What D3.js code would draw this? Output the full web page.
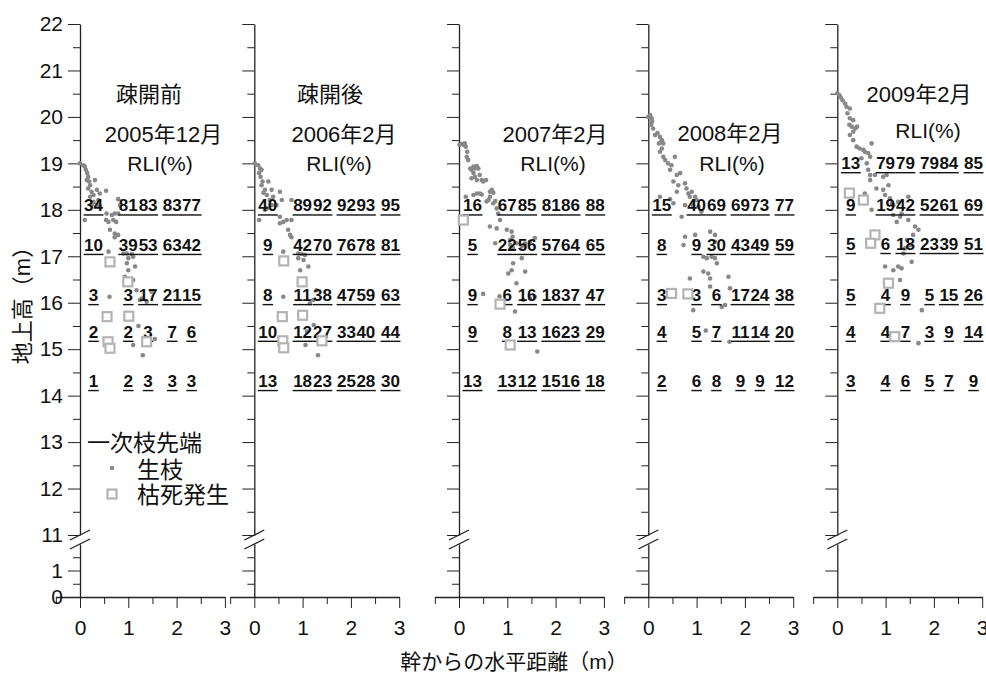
<!DOCTYPE html>
<html>
<head>
<meta charset="utf-8">
<script src="https://cdn.jsdelivr.net/npm/d3@7"></script>
<style>
body { margin: 0; background: #fff; }
svg { display: block; }
text { font-family: "Liberation Sans", "Noto Sans CJK JP", sans-serif; }
</style>
</head>
<body>
<svg width="986" height="673"></svg>
<script>
// ---- data ----------------------------------------------------------
var titleTop = ["疎開前", "疎開後", "", "", ""];
var titleDate = ["2005年12月", "2006年2月", "2007年2月", "2008年2月", "2009年2月"];

// RLI column positions (m from trunk) and row heights (m)
var rliCols = [0.28, 1.0, 1.41, 1.91, 2.31, 2.82];
var rliRows = [17.9, 17.05, 15.97, 15.18, 14.12];
var rliRows2009 = [18.81, 17.9, 17.07, 15.97, 15.18, 14.12];

var rli2005 = [[34, 81, 83, 83, 77], [10, 39, 53, 63, 42], [3, 3, 17, 21, 15], [2, 2, 3, 7, 6], [1, 2, 3, 3, 3]];
var rli2006 = [[40, 89, 92, 92, 93, 95], [9, 42, 70, 76, 78, 81], [8, 11, 38, 47, 59, 63], [10, 12, 27, 33, 40, 44], [13, 18, 23, 25, 28, 30]];
var rli2007 = [[16, 67, 85, 81, 86, 88], [5, 22, 56, 57, 64, 65], [9, 6, 16, 18, 37, 47], [9, 8, 13, 16, 23, 29], [13, 13, 12, 15, 16, 18]];
var rli2008 = [[15, 40, 69, 69, 73, 77], [8, 9, 30, 43, 49, 59], [3, 3, 6, 17, 24, 38], [4, 5, 7, 11, 14, 20], [2, 6, 8, 9, 9, 12]];
var rli2009 = [[13, 79, 79, 79, 84, 85], [9, 19, 42, 52, 61, 69], [5, 6, 18, 23, 39, 51], [5, 4, 9, 5, 15, 26], [4, 4, 7, 3, 9, 14], [3, 4, 6, 5, 7, 9]];

// primary branch tips: [horizontal distance (m), height (m)]
var live2005 = [[0, 19.0], [0.07, 18.96], [0.10, 18.93], [0.12, 18.86], [0.15, 18.79], [0.17, 18.71], [0.14, 18.64], [0.19, 18.61],
  [0.31, 18.64], [0.21, 18.53], [0.17, 18.46], [0.24, 18.39], [0.28, 18.32], [0.21, 18.28], [0.35, 18.43], [0.41, 18.35],
  [0.54, 18.41], [0.38, 18.21], [0.28, 18.17], [0.24, 18.10], [0.35, 18.10], [0.41, 18.07], [0.10, 17.78], [0.55, 17.92],
  [0.66, 17.89], [0.72, 17.92], [0.79, 17.92], [0.54, 17.78], [0.59, 17.74], [0.69, 17.78], [0.79, 18.23], [0.83, 18.10],
  [0.75, 17.74], [0.62, 17.57], [0.72, 17.49], [0.79, 17.46], [0.72, 17.41], [0.59, 17.10], [0.90, 17.06], [0.97, 17.06],
  [1.07, 17.05], [1.00, 16.96], [1.10, 16.99], [0.97, 16.85], [1.14, 16.78], [1.00, 16.70], [0.93, 16.56], [1.10, 16.49],
  [0.61, 16.13], [1.17, 16.27], [1.28, 16.09], [1.38, 16.02], [1.24, 16.06], [1.48, 16.24], [1.21, 15.50], [1.10, 15.09],
  [1.30, 14.87], [1.55, 15.22], [1.33, 15.22]];
var dead2005 = [[0.62, 16.88], [0.99, 16.45], [0.56, 15.70], [1.01, 15.71], [0.58, 15.16], [0.62, 15.02], [1.38, 15.16]];

var live2006 = [[0.01, 19.0], [0.08, 18.96], [0.12, 18.89], [0.15, 18.86], [0.10, 18.79], [0.13, 18.71], [0.17, 18.61], [0.15, 18.53],
  [0.29, 18.61], [0.22, 18.43], [0.19, 18.37], [0.26, 18.32], [0.36, 18.43], [0.53, 18.39], [0.39, 18.28], [0.32, 18.21],
  [0.36, 18.10], [0.26, 18.03], [0.46, 18.10], [0.22, 18.0], [0.10, 17.78], [0.53, 17.85], [0.60, 17.74], [0.67, 17.78],
  [0.77, 17.78], [0.53, 17.71], [0.57, 18.21], [0.77, 18.21], [0.70, 17.57], [0.74, 17.46], [0.77, 17.41], [0.60, 17.10],
  [0.91, 17.06], [0.98, 17.05], [1.05, 17.03], [0.91, 16.96], [1.02, 16.92], [0.95, 16.70], [1.12, 16.78], [0.98, 16.49],
  [1.02, 16.38], [0.60, 16.13], [1.15, 15.99], [1.29, 16.27], [1.22, 16.06], [1.23, 15.52], [1.09, 15.38], [1.44, 15.16],
  [1.06, 15.09], [1.32, 14.87]];
var dead2006 = [[0.61, 16.90], [0.99, 16.45], [0.58, 15.70], [1.0, 15.73], [0.59, 15.18], [0.61, 15.03], [1.40, 15.18]];

var live2007 = [[0.01, 19.40], [0.06, 19.42], [0.09, 19.40], [0.12, 19.43], [0.14, 19.36], [0.17, 19.25], [0.16, 19.14], [0.19, 19.07],
  [0.23, 18.89], [0.26, 18.86], [0.30, 18.93], [0.33, 18.89], [0.37, 18.94], [0.40, 18.89], [0.30, 18.79], [0.33, 18.71],
  [0.26, 18.68], [0.43, 18.75], [0.37, 18.64], [0.47, 18.64], [0.50, 18.61], [0.56, 18.64], [0.14, 18.28], [0.30, 18.32],
  [0.37, 18.35], [0.43, 18.35], [0.47, 18.33], [0.64, 18.39], [0.68, 18.43], [0.71, 18.37], [0.64, 18.28], [0.61, 18.21],
  [0.57, 18.18], [0.71, 18.14], [0.75, 18.19], [0.78, 18.03], [0.81, 17.92], [0.85, 17.78], [0.64, 17.64], [0.78, 17.60],
  [0.99, 17.57], [1.09, 17.53], [1.11, 17.42], [1.06, 17.35], [1.06, 17.24], [1.12, 17.17], [1.19, 17.28], [1.30, 17.21],
  [1.37, 17.28], [1.57, 17.39], [1.47, 17.31], [0.75, 17.28], [1.30, 16.96], [1.12, 16.85], [1.09, 16.70], [1.02, 16.63],
  [1.37, 16.67], [1.19, 16.42], [1.47, 16.09], [1.33, 16.06], [0.50, 16.19], [0.84, 16.14], [1.16, 15.81], [1.57, 16.13],
  [1.62, 14.95]];
var dead2007 = [[0.09, 17.78], [0.85, 15.97], [1.06, 15.09]];

var live2008 = [[0.0, 20.0], [0.04, 20.04], [0.07, 19.97], [0.08, 19.90], [0.06, 19.83], [0.10, 19.75], [0.14, 19.61], [0.19, 19.65],
  [0.24, 19.57], [0.28, 19.50], [0.22, 19.43], [0.31, 19.43], [0.28, 19.32], [0.24, 19.25], [0.31, 19.14], [0.35, 19.07],
  [0.41, 19.0], [0.48, 18.96], [0.55, 19.14], [0.45, 18.86], [0.59, 18.75], [0.66, 18.79], [0.52, 18.61], [0.62, 18.53],
  [0.59, 18.39], [0.76, 18.57], [0.79, 18.46], [0.83, 18.35], [0.90, 18.39], [0.86, 18.28], [0.97, 18.28], [1.00, 18.21],
  [0.93, 18.10], [1.04, 18.07], [1.10, 17.96], [0.69, 17.85], [0.45, 18.23], [0.24, 18.28], [0.52, 18.14], [0.76, 18.10],
  [0.76, 17.42], [0.73, 17.24], [0.97, 17.46], [1.28, 17.53], [1.38, 17.46], [1.38, 17.31], [1.14, 16.99], [1.21, 16.96],
  [1.31, 16.99], [1.38, 16.96], [1.42, 16.85], [1.14, 16.67], [1.24, 16.63], [1.28, 16.52], [0.86, 16.52], [1.28, 16.35],
  [1.66, 16.56], [1.69, 16.31], [1.52, 15.91], [1.59, 15.95], [0.93, 15.84], [1.19, 15.40], [1.68, 15.16]];
var dead2008 = [[0.48, 16.20], [0.82, 16.19]];

var live2009 = [[0.0, 20.51], [0.04, 20.47], [0.07, 20.42], [0.11, 20.36], [0.16, 20.29], [0.19, 20.22], [0.26, 20.18], [0.21, 20.08],
  [0.26, 19.97], [0.33, 19.93], [0.25, 19.83], [0.30, 19.79], [0.37, 19.75], [0.41, 19.79], [0.33, 19.68], [0.26, 19.61],
  [0.33, 19.50], [0.40, 19.36], [0.46, 19.32], [0.54, 19.29], [0.57, 19.25], [0.64, 19.22], [0.71, 19.43], [0.68, 19.14],
  [0.50, 19.11], [0.61, 19.0], [0.64, 18.86], [0.68, 18.75], [0.68, 18.64], [0.78, 18.75], [0.95, 18.71], [1.02, 18.75],
  [1.06, 18.53], [0.81, 18.46], [0.95, 18.43], [0.99, 18.32], [1.09, 18.25], [1.13, 18.14], [1.16, 18.10], [1.26, 18.17],
  [1.47, 18.28], [1.16, 17.89], [1.30, 17.85], [1.33, 17.92], [1.23, 17.74], [1.47, 17.78], [1.61, 17.64], [1.68, 17.57],
  [1.57, 17.46], [1.44, 17.35], [1.51, 17.24], [1.40, 17.17], [1.37, 17.06], [1.54, 16.88], [1.16, 16.70], [1.26, 16.78],
  [1.33, 16.74], [1.30, 16.49], [0.99, 16.78], [1.75, 15.84], [0.71, 18.0], [0.57, 18.35], [1.68, 15.13]];
var dead2009 = [[0.25, 18.36], [0.54, 18.21], [0.78, 17.46], [0.69, 17.28], [1.06, 16.42], [0.88, 15.88], [1.19, 15.27]];

var allRli = [rli2005, rli2006, rli2007, rli2008, rli2009];
var allLive = [live2005, live2006, live2007, live2008, live2009];
var allDead = [dead2005, dead2006, dead2007, dead2008, dead2009];

// ---- layout --------------------------------------------------------
var svg = d3.select("svg");
var panelX = [80, 254.3, 459, 648.3, 837.3];   // trunk axis of each panel
var kx = 48.3;                                 // px per metre (horizontal)

var yHi = d3.scaleLinear().domain([11, 22]).range([535, 24]);
var yLo = d3.scaleLinear().domain([0, 2]).range([597, 544]);

// title centres relative to trunk axis: [top line, date, RLI]
var titleDx = [[69, 83.5, 80], [75.7, 89.7, 84.7], [0, 96, 94], [0, 81.7, 83.7], [0, 81.7, 90.7]];
var titleY = [[94, 134, 163], [94, 134, 163], [0, 134, 163], [0, 133, 163], [0, 94, 130]];

var xTicks = d3.range(-0.5, 3.01, 0.5);

panelX.forEach(function (px, i) {
    var x = d3.scaleLinear().domain([-0.5, 3]).range([px - 0.5 * kx, px + 3 * kx]);
    var g = svg.append("g").attr("color", "#222");

    // x axis
    var xa = g.append("g")
        .attr("transform", "translate(0," + yLo(0) + ")")
        .call(d3.axisBottom(x).tickValues(xTicks).tickSizeOuter(0)
            .tickFormat(function (d) { return d % 1 === 0 ? d : ""; }));
    xa.selectAll(".tick line").attr("y2", function (d) { return d % 1 === 0 ? 11 : 7; });
    xa.selectAll(".tick text").attr("y", 23).attr("font-size", 21).attr("font-family", null).attr("fill", "#111");
    xa.select(".domain").attr("stroke-width", 1.3);

    // upper y axis (11 - 22 m)
    var ya = g.append("g")
        .attr("transform", "translate(" + x(0) + ",0)")
        .call(d3.axisLeft(yHi).tickValues(d3.range(11, 22.01, 0.5)).tickSizeOuter(0)
            .tickFormat(function (d) { return (i === 0 && d % 1 === 0) ? d : ""; }));
    ya.selectAll(".tick line").attr("x2", function (d) { return d % 1 === 0 ? -12 : -7; });
    ya.selectAll(".tick text").attr("x", -17).attr("font-size", 21).attr("font-family", null).attr("fill", "#111");
    ya.select(".domain").attr("stroke-width", 1.3);

    // lower y axis (0 - 2 m)
    var lowTicks = i < 4 ? [0, 0.5, 1, 1.5] : [0, 1];
    var yl = g.append("g")
        .attr("transform", "translate(" + x(0) + ",0)")
        .call(d3.axisLeft(yLo).tickValues(lowTicks).tickSizeOuter(0)
            .tickFormat(function (d) { return (i === 0 && d % 1 === 0) ? d : ""; }));
    yl.selectAll(".tick line").attr("x2", function (d) { return d === 0 ? 0 : (d % 1 === 0 ? -12 : -7); });
    yl.selectAll(".tick text").attr("x", -17).attr("font-size", 21).attr("font-family", null).attr("fill", "#111");
    yl.select(".domain").attr("stroke-width", 1.3);

    // axis break marks
    [yHi(11), yLo(2)].forEach(function (by) {
        g.append("line")
            .attr("x1", x(0) - 10).attr("y1", by + 5)
            .attr("x2", x(0) + 10).attr("y2", by - 5)
            .attr("stroke", "#222").attr("stroke-width", 1.3);
    });

    // titles
    if (titleTop[i]) {
        g.append("text").attr("x", px + titleDx[i][0]).attr("y", titleY[i][0])
            .attr("text-anchor", "middle").attr("dominant-baseline", "central")
            .attr("font-size", 22).attr("fill", "#111").text(titleTop[i]);
    }
    g.append("text").attr("x", px + titleDx[i][1]).attr("y", titleY[i][1])
        .attr("text-anchor", "middle").attr("dominant-baseline", "central")
        .attr("font-size", 22).attr("fill", "#111").text(titleDate[i]);
    g.append("text").attr("x", px + titleDx[i][2]).attr("y", titleY[i][2])
        .attr("text-anchor", "middle").attr("dominant-baseline", "central")
        .attr("font-size", 21).attr("fill", "#111").text("RLI(%)");

    // branch tips
    g.append("g").selectAll("circle")
        .data(allLive[i])
        .enter().append("circle")
        .attr("cx", function (d) { return x(d[0]); })
        .attr("cy", function (d) { return yHi(d[1]); })
        .attr("r", 2.3)
        .attr("fill", "#888");

    // RLI numbers with underline
    var rows = i === 4 ? rliRows2009 : rliRows;
    allRli[i].forEach(function (row, r) {
        row.forEach(function (v, c) {
            var t = g.append("text")
                .attr("x", x(rliCols[c]))
                .attr("y", yHi(rows[r]) - 3)
                .attr("text-anchor", "middle")
                .attr("font-size", 17)
                .attr("font-weight", "bold")
                .attr("fill", "#111")
                .text(v);
            var w = t.node().getComputedTextLength();
            g.append("line")
                .attr("x1", x(rliCols[c]) - w / 2 - 0.5).attr("x2", x(rliCols[c]) + w / 2 + 0.5)
                .attr("y1", yHi(rows[r]) + 0.5).attr("y2", yHi(rows[r]) + 0.5)
                .attr("stroke", "#111").attr("stroke-width", 1.4);
        });
    });

    // dead-branch markers
    g.append("g").selectAll("rect")
        .data(allDead[i])
        .enter().append("rect")
        .attr("x", function (d) { return x(d[0]) - 4.5; })
        .attr("y", function (d) { return yHi(d[1]) - 4.5; })
        .attr("width", 9)
        .attr("height", 9)
        .attr("fill", "#fff")
        .attr("stroke", "#b3b3b3")
        .attr("stroke-width", 2.2);
});

// legend (first panel)
var legend = svg.append("g").attr("fill", "#111").attr("font-size", 23);
legend.append("text").attr("x", 87).attr("y", 443).attr("dominant-baseline", "central").text("一次枝先端");
legend.append("circle").attr("cx", 112).attr("cy", 468).attr("r", 2.3).attr("fill", "#888");
legend.append("text").attr("x", 137).attr("y", 470).attr("dominant-baseline", "central").text("生枝");
legend.append("rect").attr("x", 107.5).attr("y", 489.5).attr("width", 9).attr("height", 9)
    .attr("fill", "#fff").attr("stroke", "#b3b3b3").attr("stroke-width", 2.2);
legend.append("text").attr("x", 137).attr("y", 495).attr("dominant-baseline", "central").text("枯死発生");

// axis titles
svg.append("text")
    .attr("transform", "translate(22,300) rotate(-90)")
    .attr("text-anchor", "middle").attr("dominant-baseline", "central")
    .attr("font-size", 22).attr("fill", "#111")
    .text("地上高（m）");

svg.append("text")
    .attr("x", 514).attr("y", 661)
    .attr("text-anchor", "middle").attr("dominant-baseline", "central")
    .attr("font-size", 21).attr("fill", "#111")
    .text("幹からの水平距離（m）");
</script>
</body>
</html>
